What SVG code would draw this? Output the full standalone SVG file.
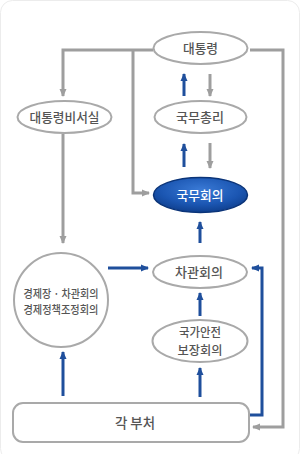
<svg xmlns="http://www.w3.org/2000/svg" width="300" height="454" viewBox="0 0 300 454">
<defs>
<style>
.node{fill:#fff;stroke:#a9a9a9;stroke-width:2}
.t{font-family:"Noto Sans CJK KR","Noto Sans",sans-serif;fill:#555;text-anchor:middle;font-weight:500}
.g{fill:none;stroke:#9e9e9e;stroke-width:3}
.b{fill:none;stroke:#1f4f9c;stroke-width:3}
</style>
<marker id="ag" markerUnits="userSpaceOnUse" markerWidth="8" markerHeight="8" refX="7" refY="4" orient="auto"><path d="M0,0.5 L8,4 L0,7.5 z" fill="#9e9e9e"/></marker>
<marker id="ab" markerUnits="userSpaceOnUse" markerWidth="8" markerHeight="8" refX="7" refY="4" orient="auto"><path d="M0,0.5 L8,4 L0,7.5 z" fill="#1f4f9c"/></marker>
<radialGradient id="blue" cx="0.5" cy="0.35" r="0.7">
<stop offset="0" stop-color="#3a7ad6"/>
<stop offset="0.6" stop-color="#1b56b2"/>
<stop offset="1" stop-color="#0c3a86"/>
</radialGradient>
</defs>
<rect x="0.5" y="0.5" width="299" height="460" rx="12" fill="#fff" stroke="#ececec"/>
<g id="connectors">
<path class="g" d="M153,50 H63 V96" marker-end="url(#ag)"/>
<path class="g" d="M133,50 V193 H149" marker-end="url(#ag)"/>
<path class="g" d="M250,50 H283 V427 H253" marker-end="url(#ag)"/>
<path class="g" d="M210,74 V96" marker-end="url(#ag)"/>
<path class="g" d="M210,143 V168" marker-end="url(#ag)"/>
<path class="g" d="M63,134 V243" marker-end="url(#ag)"/>
<path class="b" d="M184,96 V74" marker-end="url(#ab)"/>
<path class="b" d="M184,167 V144" marker-end="url(#ab)"/>
<path class="b" d="M200,243 V222" marker-end="url(#ab)"/>
<path class="b" d="M108,268 H148" marker-end="url(#ab)"/>
<path class="b" d="M200,316 V293" marker-end="url(#ab)"/>
<path class="b" d="M200,397 V368" marker-end="url(#ab)"/>
<path class="b" d="M63,396 V352" marker-end="url(#ab)"/>
<path class="b" d="M249,415 H262 V268 H252" marker-end="url(#ab)"/>
</g>
<g id="n-president">
<ellipse class="node" cx="200.5" cy="48" rx="47" ry="16"/>
<text class="t" x="200.5" y="53" font-size="13" textLength="35" lengthAdjust="spacingAndGlyphs">대통령</text>
</g>
<g id="n-pm">
<ellipse class="node" cx="200.5" cy="117" rx="46" ry="16"/>
<text class="t" x="200" y="122" font-size="13" textLength="48" lengthAdjust="spacingAndGlyphs">국무총리</text>
</g>
<g id="n-secretariat">
<ellipse class="node" cx="64.5" cy="117" rx="47" ry="16"/>
<text class="t" x="64.5" y="122" font-size="13" textLength="70" lengthAdjust="spacingAndGlyphs">대통령비서실</text>
</g>
<g id="n-cabinet">
<ellipse cx="200.5" cy="195" rx="47" ry="17.5" fill="url(#blue)" stroke="#0b3478" stroke-width="1.5"/>
<text x="200" y="200" font-size="13" textLength="47" lengthAdjust="spacingAndGlyphs" style="font-family:'Noto Sans CJK KR','Noto Sans',sans-serif;fill:#fff;text-anchor:middle;font-weight:500">국무회의</text>
</g>
<g id="n-vice">
<ellipse class="node" cx="200" cy="272" rx="47" ry="16"/>
<text class="t" x="199" y="277" font-size="13" textLength="48" lengthAdjust="spacingAndGlyphs">차관회의</text>
</g>
<g id="n-economic">
<circle class="node" cx="61" cy="300" r="47"/>
<text class="t" x="61" y="298" font-size="11.5" textLength="75" lengthAdjust="spacingAndGlyphs">경제장 · 차관회의</text>
<text class="t" x="61" y="314" font-size="11.5" textLength="75" lengthAdjust="spacingAndGlyphs">경제정책조정회의</text>
</g>
<g id="n-security">
<ellipse class="node" cx="200" cy="341" rx="47.5" ry="21"/>
<text class="t" x="200" y="337" font-size="12" textLength="42" lengthAdjust="spacingAndGlyphs">국가안전</text>
<text class="t" x="200" y="355" font-size="12" textLength="45" lengthAdjust="spacingAndGlyphs">보장회의</text>
</g>
<g id="n-ministries">
<rect class="node" x="13" y="403" width="236" height="39" rx="10"/>
<text class="t" x="135" y="428" font-size="14" textLength="40" lengthAdjust="spacingAndGlyphs">각 부처</text>
</g>
</svg>
